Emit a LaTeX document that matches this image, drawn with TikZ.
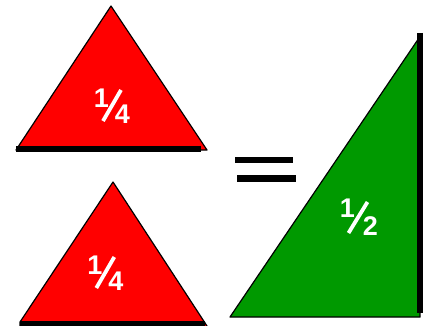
\documentclass[tikz,border=0pt]{standalone}
\usepackage{fontspec}
\setmainfont{Liberation Sans}
\definecolor{tred}{HTML}{FF0000}
\definecolor{tgreen}{HTML}{009900}
\begin{document}
\begin{tikzpicture}[x=1pt,y=-1pt,
  tri/.style={draw=black,line width=1.2pt,line join=round},
  bar/.style={draw=black,line width=6pt},
  dig/.style={text=white,font=\bfseries\fontsize{27}{27}\selectfont,inner sep=0pt},
  slash/.style={draw=white,line width=3.8pt}]
\useasboundingbox (0,0) rectangle (433,326);
% top red triangle
\coordinate (a1) at (111,6);
\coordinate (b1) at (16,150);
\coordinate (c1) at (207,150);
\filldraw[tri,fill=tred] (a1) -- (b1) -- (c1) -- cycle;
\coordinate (d1) at (16,148.5);
\coordinate (e1) at (201,148.5);
\draw[bar] (d1) -- (e1);
\begin{scope}[shift={(112,105.5)}]
  \node[dig] (n1) at (-10.5,-7.5) {1};
  \node[dig] (m1) at (10.5,8.5) {4};
  \coordinate (s1a) at (-9,15.5);
  \coordinate (s1b) at (9,-15.5);
  \draw[slash] (s1a) -- (s1b);
\end{scope}
% bottom red triangle
\coordinate (a2) at (113,182);
\coordinate (b2) at (20,322);
\coordinate (c2) at (207,326);
\filldraw[tri,fill=tred] (a2) -- (b2) -- (20,330) -- (207,330) -- (c2) -- cycle;
\coordinate (d2) at (20,323.5);
\coordinate (e2) at (205,323.5);
\draw[bar] (d2) -- (e2);
\begin{scope}[shift={(105.3,272.5)}]
  \node[dig] (n2) at (-10.5,-7.5) {1};
  \node[dig] (m2) at (10.5,8.5) {4};
  \coordinate (s2a) at (-9,15.5);
  \coordinate (s2b) at (9,-15.5);
  \draw[slash] (s2a) -- (s2b);
\end{scope}
% equals sign
\coordinate (p1) at (235,160);
\coordinate (p2) at (293,160);
\coordinate (p3) at (237,178.5);
\coordinate (p4) at (296,178.5);
\draw[line width=6pt] (p1) -- (p2);
\draw[line width=6.5pt] (p3) -- (p4);
% green triangle
\coordinate (g1) at (419,38);
\coordinate (g2) at (230,317);
\coordinate (g3) at (420,317);
\filldraw[tri,fill=tgreen] (g1) -- (g2) -- (g3) -- cycle;
\coordinate (v1) at (420,33);
\coordinate (v2) at (420,313);
\draw[line width=6pt] (v1) -- (v2);
\begin{scope}[shift={(359,217.5)}]
  \node[dig] (n3) at (-11.5,-9) {1};
  \node[dig] (m3) at (11.5,9) {2};
  \coordinate (s3a) at (-10.5,15.5);
  \coordinate (s3b) at (8.5,-15.5);
  \draw[slash] (s3a) -- (s3b);
\end{scope}
\end{tikzpicture}
\end{document}
